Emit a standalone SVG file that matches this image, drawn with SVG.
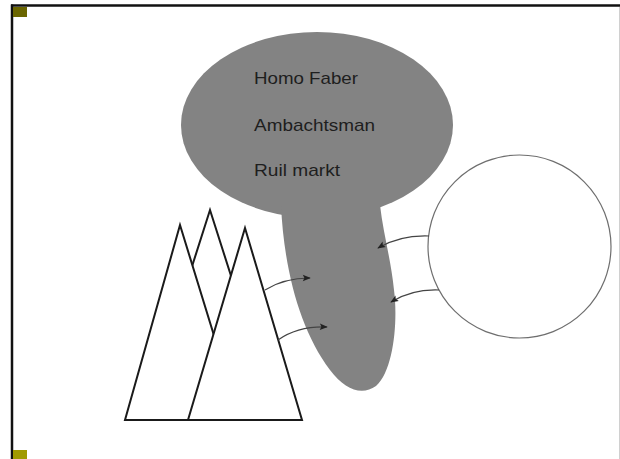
<svg xmlns="http://www.w3.org/2000/svg" width="620" height="459" viewBox="0 0 620 459">
<defs>
<style>
.frame{stroke:#111;stroke-width:2.5;fill:none}
.tri{fill:#fff;stroke:#1a1a1a;stroke-width:2;stroke-linejoin:miter}
.blob{fill:#838383}
.lbl{font-family:"Liberation Sans",Arial,sans-serif;font-size:17px;fill:#1e1e1e}
.conn{fill:none;stroke:#444;stroke-width:1.2}
</style>
<marker id="ah" viewBox="0 0 10 10" refX="9" refY="5" markerWidth="10" markerHeight="8" orient="auto" markerUnits="userSpaceOnUse">
<path d="M0,1 L10,5 L0,9 L2,5 Z" fill="#222"/>
</marker>
</defs>
<rect width="620" height="459" fill="#fff"/>
<g id="frame">
<line class="frame" x1="11" y1="5.5" x2="620" y2="5.5"/>
<line class="frame" x1="12" y1="4.5" x2="12" y2="459"/>
<line x1="619.5" y1="7" x2="619.5" y2="459" stroke="#d0d0d0" stroke-width="1"/>
<rect x="13" y="7" width="14" height="10" fill="#6b6600"/>
<rect x="13" y="450" width="14" height="9" fill="#a09a00"/>
</g>
<g id="bubble">
<ellipse class="blob" cx="317" cy="125" rx="136" ry="93"/>
<path class="blob" d="M281,205 C284,270 300,330 330,370 C345,390 362,396 376,386 C394,370 398,320 394,290 C391,260 383,232 380,205 Z"/>
<text class="lbl" x="254" y="84" textLength="104" lengthAdjust="spacingAndGlyphs">Homo Faber</text>
<text class="lbl" x="254" y="131" textLength="121" lengthAdjust="spacingAndGlyphs">Ambachtsman</text>
<text class="lbl" x="254" y="176" textLength="86" lengthAdjust="spacingAndGlyphs">Ruil markt</text>
</g>
<g id="mountains">
<polygon class="tri" points="210,210 143,420 277,420"/>
<polygon class="tri" points="180,225 125,420 240,420"/>
<polygon class="tri" points="245,228 188,420 302,420"/>
</g>
<g id="circle">
<circle cx="519.5" cy="246.5" r="91.5" fill="none" stroke="#6e6e6e" stroke-width="1.2"/>
</g>
<g id="connectors">
<path class="conn" d="M265,290 Q284,278 310,278" marker-end="url(#ah)"/>
<path class="conn" d="M278,340 Q298,326 327,327" marker-end="url(#ah)"/>
<path class="conn" d="M429,236 Q400,235 378,248" marker-end="url(#ah)"/>
<path class="conn" d="M439,290 Q412,289 391,302" marker-end="url(#ah)"/>
</g>
</svg>
